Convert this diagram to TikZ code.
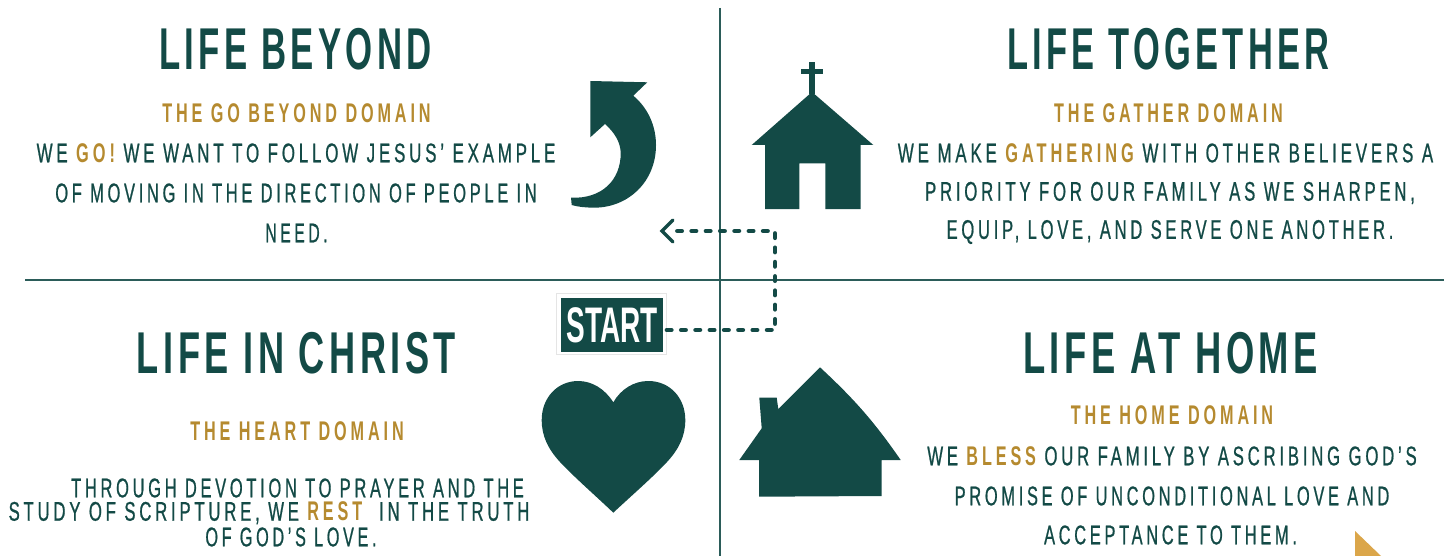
\documentclass[tikz,border=0pt]{standalone}
\usepackage{graphicx}
\usepackage{fontspec}
\setmainfont{Liberation Sans}
\newfontfamily\titlefont[FakeStretch=0.6,LetterSpace=7.5]{Liberation Sans Bold}
\newfontfamily\subfont[FakeStretch=0.6,LetterSpace=14.4]{Liberation Sans Bold}
\newfontfamily\bodyfont[FakeStretch=0.62,LetterSpace=14,FakeBold=0.7]{Liberation Sans}
\newfontfamily\startfont[FakeStretch=0.56]{Liberation Sans Bold}
\definecolor{dk}{HTML}{134A46}
\definecolor{gd}{HTML}{B58A2F}
\definecolor{tri}{HTML}{DBA64A}
\newcommand{\hl}[1]{\textcolor{gd}{{\subfont #1}}}
\newcommand{\sx}[2]{\scalebox{#1}[1]{#2}}
\tikzset{
 titletext/.style={text=dk,inner sep=0pt,font=\titlefont\fontsize{59}{59}\selectfont},
 subtext/.style={text=gd,inner sep=0pt,font=\subfont\fontsize{27}{27}\selectfont},
 bodytext/.style={text=dk,inner sep=0pt,font=\bodyfont\fontsize{27}{27}\selectfont},
 rulebar/.style={draw=dk!90,line width=2.2pt},
 iconfill/.style={fill=dk,draw=none},
 flowline/.style={draw=dk,line width=4.5pt,dash pattern=on 4.5pt off 9.8pt,line cap=round},
}
\begin{document}
\begin{tikzpicture}[x=1pt,y=-1pt]
\useasboundingbox (0,0) rectangle (1447,556);
\draw[rulebar] (720,8) -- (720,556);
\draw[rulebar] (25,280) -- (1444,280);
% titles
\node[titletext] (t1) at (295.5,49) {\sx{.982}{LIFE BEYOND}};
\node[titletext] (t2) at (1168.5,49) {\sx{.973}{LIFE TOGETHER}};
\node[titletext] (t3) at (296.5,353) {\sx{1.022}{LIFE IN CHRIST}};
\node[titletext] (t4) at (1170.5,353) {\sx{1.028}{LIFE AT HOME}};
% top left
\node[subtext] (s1) at (296.5,113) {THE GO BEYOND DOMAIN};
\node[bodytext] (b11) at (296,153) {\sx{1.01}{WE \hl{GO!} WE WANT TO FOLLOW JESUS’ EXAMPLE}};
\node[bodytext] (b12) at (296,193) {\sx{.982}{OF MOVING IN THE DIRECTION OF PEOPLE IN}};
\node[bodytext] (b13) at (296.5,233) {\sx{.94}{NEED.}};
% top right
\node[subtext] (s2) at (1168.5,113) {THE GATHER DOMAIN};
\node[bodytext] (b21) at (1165.5,153) {\sx{1.011}{WE MAKE \hl{GATHERING} WITH OTHER BELIEVERS A}};
\node[bodytext] (b22) at (1170,193) {PRIORITY FOR OUR FAMILY AS WE SHARPEN,};
\node[bodytext] (b23) at (1170,232) {\sx{.99}{EQUIP, LOVE, AND SERVE ONE ANOTHER.}};
% bottom left
\node[subtext] (s3) at (297,431) {THE HEART DOMAIN};
\node[bodytext] (b31) at (297.5,488) {\sx{.983}{THROUGH DEVOTION TO PRAYER AND THE}};
\node[bodytext] (b32) at (269,513) {STUDY OF SCRIPTURE, WE \hl{REST}\ \ IN THE TRUTH};
\node[bodytext] (b33) at (291,537) {\sx{.97}{OF GOD’S LOVE.}};
% bottom right
\node[subtext] (s4) at (1172,415) {THE HOME DOMAIN};
\node[bodytext] (b41) at (1172,456) {WE \hl{BLESS} OUR FAMILY BY ASCRIBING GOD’S};
\node[bodytext] (b42) at (1172,496) {\sx{.98}{PROMISE OF UNCONDITIONAL LOVE AND}};
\node[bodytext] (b43) at (1170.5,535) {\sx{.98}{ACCEPTANCE TO THEM.}};
% arrow icon
\fill[iconfill] (590.3,81) -- (647.3,82.3) -- (633.3,95.7)
  .. controls (648,108) and (656,126) .. (656,145)
  .. controls (656,182) and (628,208) .. (593.3,207.7)
  .. controls (586,207.5) and (578,207) .. (571.7,205)
  -- (571,197.7)
  .. controls (602,199) and (620.7,180) .. (620.7,153.3)
  .. controls (620.7,142) and (614,132) .. (605,124)
  -- (590.3,137.3) -- cycle;
% church
\fill[iconfill] (812,92) -- (873.3,145) -- (860.7,145) -- (860.7,209) -- (825.3,209) -- (825.3,163.3)
  -- (799.3,163.3) -- (799.3,209) -- (765,209) -- (765,145) -- (751.7,145) -- cycle;
\fill[iconfill] (809.3,61.7) rectangle (814.7,94);
\fill[iconfill] (801,69.2) rectangle (823,74.4);
% heart
\fill[iconfill] (613.3,402.3)
  .. controls (605,389) and (592,381) .. (578.3,381)
  .. controls (557,381) and (541.7,398) .. (541.7,420)
  .. controls (541.7,436) and (548,449) .. (560,462)
  .. controls (575,478) and (597,497) .. (613.3,512.7)
  .. controls (630,497) and (652,478) .. (667,462)
  .. controls (679,449) and (685.3,436) .. (685.3,420)
  .. controls (685.3,398) and (670,381) .. (648.3,381)
  .. controls (634,381) and (621,389) .. (613.3,402.3) -- cycle;
% house
\fill[iconfill] (820,367.3) .. controls (853,398) and (873,420) .. (900.7,460)
  -- (881.7,460) -- (881.7,496) -- (759,496.7) -- (759,460) -- (739.3,460)
  -- (761.7,428.3) -- (759.3,397.7) -- (776.7,397.7) -- (778.3,409) -- cycle;
% corner triangle
\fill[tri] (1355,531) -- (1381,556) -- (1355,556) -- cycle;
% start
\node[draw=black!10,line width=0.8pt,fill=white,minimum width=110pt,minimum height=61pt,inner sep=0pt] (startframe) at (611.5,324) {};
\node[fill=dk,text=white,minimum width=102pt,minimum height=54pt,inner sep=0pt,font=\startfont\fontsize{50}{50}\selectfont] (start) at (612,325) {START};
% flow
\coordinate (bendA) at (775,330);
\coordinate (bendB) at (775,231);
\coordinate (tip) at (668,231);
\draw[flowline] (startframe.east |- bendA) -- (bendA) -- (bendB) -- (tip);
\draw[draw=dk,line width=3.5pt,line cap=round,line join=miter] (673,220) -- (662,231) -- (673,242);
\end{tikzpicture}
\end{document}
